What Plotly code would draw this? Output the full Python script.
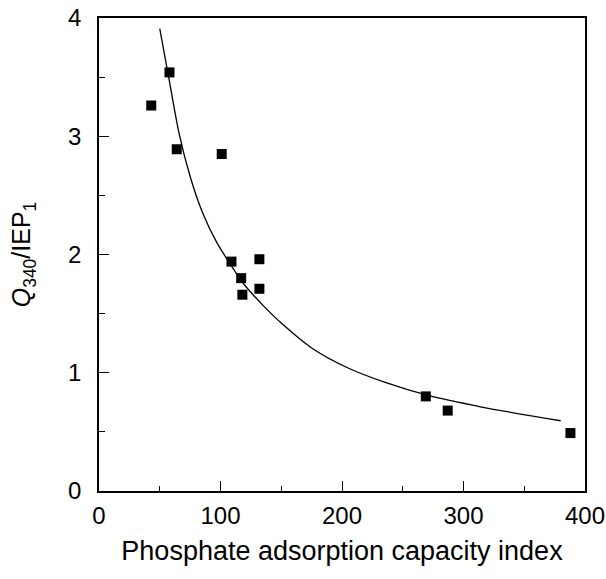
import plotly.graph_objects as go

# Measured data points
pac_index = [43, 58, 64, 101, 109, 132, 117, 132, 118, 269, 287, 388]
q_ratio = [3.26, 3.54, 2.89, 2.85, 1.94, 1.96, 1.80, 1.71, 1.66, 0.80, 0.68, 0.49]

# Fitted curve
curve_x = [50, 57, 66, 75, 85, 97, 108, 120, 135, 150, 175, 205, 235, 270, 315, 380]
curve_y = [3.91, 3.52, 3.02, 2.66, 2.36, 2.10, 1.92, 1.74, 1.57, 1.42, 1.21, 1.04, 0.92, 0.81, 0.71, 0.594]

x_ticks = [0, 100, 200, 300, 400]
y_ticks = [0, 1, 2, 3, 4]

font = "Liberation Sans, Arial, Helvetica, sans-serif"

fig = go.Figure()
fig.add_trace(go.Scatter(x=curve_x, y=curve_y, mode="lines",
                         line=dict(color="black", width=1.3, shape="spline", smoothing=0.8),
                         hoverinfo="skip", showlegend=False))
fig.add_trace(go.Scatter(x=pac_index, y=q_ratio, mode="markers",
                         marker=dict(symbol="square", size=10, color="black"),
                         showlegend=False))

fig.update_layout(
    width=606, height=579,
    margin=dict(l=99, r=21, t=18, b=88, autoexpand=False),
    paper_bgcolor="white", plot_bgcolor="white",
    font=dict(family=font, color="black", size=24),
)
fig.update_xaxes(
    range=[0, 400], tickvals=x_ticks, ticks="inside", ticklen=10, tickwidth=1.3,
    tickcolor="black", showline=True, linecolor="black", linewidth=1.5, mirror=True,
    showgrid=False, zeroline=False, ticklabelstandoff=2, automargin=False,
    minor=dict(dtick=50, ticks="inside", ticklen=5, tickcolor="black", tickwidth=1.2, showgrid=False),
    tickfont=dict(size=24),
    title=dict(text="Phosphate adsorption capacity index", font=dict(size=27), standoff=14),
)
fig.update_yaxes(
    range=[0, 4], tickvals=y_ticks, ticks="inside", ticklen=10, tickwidth=1.3,
    tickcolor="black", showline=True, linecolor="black", linewidth=1.5, mirror=True,
    showgrid=False, zeroline=False, ticklabelstandoff=11, automargin=False,
    minor=dict(dtick=0.5, ticks="inside", ticklen=6, tickcolor="black", tickwidth=1.2, showgrid=False),
    tickfont=dict(size=24),
    title=dict(text="<i>Q</i><sub>340</sub>/IEP<sub>1</sub>", font=dict(size=25), standoff=30),
)

fig.write_html("out.html", config={"displayModeBar": False},
               post_script="document.body.style.margin='0';")
